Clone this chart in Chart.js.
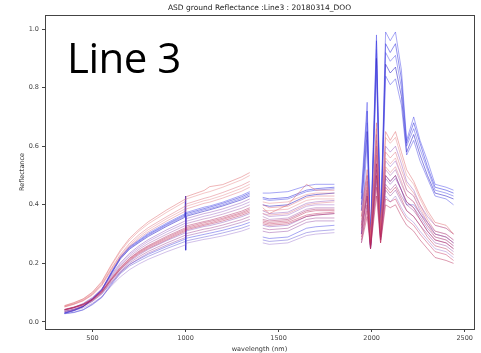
<!DOCTYPE html>
<html>
<head>
<meta charset="utf-8">
<script src="https://cdn.jsdelivr.net/npm/chart.js@4.4.1/dist/chart.umd.min.js"></script>
<style>
  html,body{margin:0;padding:0;background:#fff;}
  #wrap{position:relative;width:481px;height:353px;}
  #tag{position:absolute;left:67px;top:36px;font-family:"Open Sans",Lato,sans-serif;font-size:42px;color:#000;line-height:1;letter-spacing:-0.5px;}
</style>
</head>
<body>
<div id="wrap">
  <canvas id="chartRefl" width="481" height="353"></canvas>
  <div id="tag">Line 3</div>
</div>
<script>
// wavelengths (nm); null rows mark the water-band gaps
const wavelength = [350,400,450,500,550,600,650,700,750,800,900,995,1000,1001,1005,1100,1130,1200,1300,1345,
  1380,
  1415,1450,1550,1650,1700,1800,
  1870,
  1945,1976,1994,2026,2048,2075,2100,2128,2160,2188,2226,2260,2300,2341,2400,2440];

const xTicks = [500,1000,1500,2000,2500];
const yTicks = [0,0.2,0.4,0.6,0.8,1.0];

// red / pink spectra
const red8 = [0.041,0.049,0.058,0.075,0.101,0.143,0.180,0.210,0.233,0.251,0.281,0.308,0.308,0.315,0.315,0.330,0.334,0.345,0.364,0.375, null,
  0.335,0.33,0.335,0.36,0.365,0.37, null,
  0.27,0.36,0.25,0.43,0.27,0.40,0.39,0.40,0.36,0.33,0.31,0.28,0.25,0.22,0.21,0.20];
const red7 = [0.042,0.049,0.059,0.076,0.103,0.144,0.182,0.213,0.236,0.255,0.285,0.312,0.312,0.319,0.319,0.334,0.338,0.350,0.369,0.38, null,
  0.34,0.335,0.34,0.365,0.37,0.375, null,
  0.28,0.38,0.25,0.46,0.27,0.42,0.41,0.42,0.38,0.35,0.33,0.30,0.27,0.24,0.23,0.21];
const red6 = [0.042,0.050,0.060,0.077,0.104,0.146,0.185,0.216,0.239,0.258,0.289,0.316,0.316,0.323,0.323,0.339,0.343,0.354,0.373,0.385, null,
  0.345,0.34,0.345,0.375,0.38,0.38, null,
  0.29,0.40,0.26,0.50,0.28,0.46,0.44,0.46,0.42,0.38,0.36,0.33,0.29,0.26,0.25,0.23];
const red5 = [0.043,0.051,0.061,0.078,0.105,0.148,0.187,0.218,0.242,0.261,0.293,0.320,0.320,0.328,0.328,0.343,0.347,0.359,0.378,0.39, null,
  0.35,0.345,0.35,0.38,0.385,0.385, null,
  0.30,0.43,0.26,0.54,0.29,0.50,0.48,0.50,0.45,0.41,0.39,0.35,0.31,0.28,0.27,0.25];
const red9 = [0.051,0.060,0.072,0.092,0.124,0.175,0.221,0.258,0.285,0.308,0.345,0.377,0.377,0.386,0.386,0.405,0.409,0.423,0.446,0.46, null,
  0.37,0.365,0.37,0.40,0.405,0.41, null,
  0.31,0.45,0.27,0.57,0.29,0.53,0.51,0.53,0.48,0.43,0.41,0.37,0.33,0.29,0.28,0.26];
const red4 = [0.052,0.061,0.073,0.094,0.127,0.179,0.226,0.263,0.291,0.315,0.353,0.385,0.385,0.395,0.395,0.414,0.418,0.432,0.456,0.47, null,
  0.38,0.38,0.385,0.415,0.42,0.42, null,
  0.32,0.46,0.27,0.60,0.30,0.56,0.54,0.56,0.50,0.45,0.43,0.39,0.34,0.30,0.29,0.27];
const red3 = [0.053,0.062,0.075,0.096,0.130,0.182,0.230,0.269,0.298,0.322,0.360,0.394,0.394,0.403,0.403,0.422,0.427,0.442,0.466,0.48, null,
  0.40,0.39,0.395,0.425,0.43,0.43, null,
  0.33,0.48,0.28,0.62,0.30,0.58,0.56,0.58,0.52,0.47,0.44,0.40,0.35,0.31,0.30,0.28];
const red2 = [0.055,0.065,0.078,0.100,0.135,0.190,0.240,0.280,0.310,0.335,0.375,0.410,0.410,0.420,0.420,0.440,0.445,0.460,0.485,0.50, null,
  0.41,0.405,0.41,0.435,0.44,0.44, null,
  0.35,0.50,0.28,0.66,0.31,0.63,0.61,0.63,0.56,0.50,0.47,0.42,0.37,0.33,0.32,0.30];
const red1 = [0.056,0.066,0.079,0.102,0.138,0.194,0.245,0.286,0.316,0.342,0.383,0.418,0.418,0.428,0.428,0.449,0.462,0.469,0.495,0.51, null,
  0.39,0.37,0.40,0.47,0.45,0.45, null,
  0.36,0.52,0.29,0.68,0.31,0.65,0.62,0.65,0.58,0.52,0.48,0.43,0.38,0.34,0.33,0.30];

// purple spectra
const purple7 = [0.032,0.038,0.048,0.064,0.086,0.122,0.154,0.179,0.198,0.214,0.240,0.262,0.262,0.269,0.269,0.282,0.285,0.294,0.310,0.32, null,
  0.27,0.265,0.27,0.295,0.30,0.305, null,
  0.27,0.40,0.25,0.48,0.28,0.43,0.41,0.43,0.39,0.36,0.34,0.31,0.28,0.25,0.24,0.22];
const purple6 = [0.035,0.042,0.053,0.070,0.095,0.133,0.168,0.196,0.217,0.235,0.263,0.287,0.287,0.294,0.294,0.308,0.312,0.322,0.340,0.35, null,
  0.31,0.305,0.31,0.34,0.345,0.345, null,
  0.32,0.42,0.25,0.50,0.28,0.45,0.43,0.45,0.41,0.38,0.36,0.33,0.30,0.27,0.26,0.24];
const purple5 = [0.036,0.043,0.054,0.072,0.097,0.137,0.173,0.202,0.223,0.241,0.270,0.295,0.295,0.302,0.302,0.317,0.320,0.331,0.349,0.36, null,
  0.32,0.315,0.32,0.35,0.355,0.355, null,
  0.33,0.43,0.26,0.52,0.29,0.47,0.45,0.47,0.43,0.40,0.38,0.35,0.31,0.28,0.27,0.25];
const purple4 = [0.037,0.044,0.056,0.074,0.100,0.141,0.178,0.207,0.229,0.248,0.278,0.303,0.303,0.311,0.311,0.326,0.329,0.340,0.359,0.37, null,
  0.33,0.325,0.33,0.36,0.365,0.37, null,
  0.34,0.44,0.26,0.54,0.29,0.49,0.47,0.49,0.45,0.41,0.39,0.36,0.32,0.29,0.28,0.26];
const purple3 = [0.040,0.048,0.060,0.080,0.108,0.152,0.192,0.224,0.248,0.268,0.300,0.328,0.328,0.336,0.336,0.352,0.356,0.368,0.388,0.40, null,
  0.36,0.35,0.355,0.385,0.39,0.39, null,
  0.36,0.46,0.27,0.57,0.30,0.52,0.50,0.52,0.47,0.43,0.41,0.37,0.33,0.30,0.29,0.27];
const purple2 = [0.041,0.049,0.062,0.082,0.111,0.156,0.197,0.230,0.254,0.275,0.308,0.336,0.336,0.344,0.344,0.361,0.365,0.377,0.398,0.41, null,
  0.37,0.36,0.365,0.395,0.40,0.40, null,
  0.38,0.48,0.27,0.60,0.30,0.55,0.53,0.55,0.50,0.45,0.43,0.38,0.34,0.31,0.30,0.28];
const purple1 = [0.042,0.050,0.063,0.084,0.113,0.160,0.202,0.235,0.260,0.281,0.315,0.344,0.344,0.353,0.353,0.370,0.374,0.386,0.407,0.42, null,
  0.38,0.37,0.375,0.405,0.41,0.415, null,
  0.40,0.50,0.28,0.64,0.31,0.60,0.58,0.60,0.54,0.48,0.45,0.40,0.36,0.33,0.32,0.30];

// blue spectra
const blue6 = [0.028,0.032,0.041,0.059,0.083,0.125,0.165,0.191,0.208,0.224,0.251,0.274,0.274,0.277,0.277,0.290,0.294,0.304,0.320,0.33, null,
  0.28,0.275,0.28,0.305,0.31,0.315, null,
  0.30,0.45,0.25,0.60,0.30,0.50,0.48,0.50,0.45,0.40,0.40,0.37,0.34,0.30,0.29,0.27];
const blue5 = [0.029,0.033,0.042,0.061,0.085,0.129,0.170,0.197,0.214,0.231,0.258,0.282,0.282,0.286,0.286,0.299,0.303,0.313,0.330,0.34, null,
  0.29,0.285,0.29,0.32,0.325,0.33, null,
  0.30,0.62,0.25,0.86,0.29,0.84,0.81,0.83,0.74,0.57,0.62,0.55,0.49,0.43,0.42,0.40];
const blue4 = [0.030,0.039,0.052,0.077,0.108,0.163,0.215,0.249,0.271,0.292,0.327,0.357,0.43,0.245,0.361,0.378,0.383,0.396,0.417,0.43, null,
  0.40,0.395,0.40,0.43,0.435,0.44, null,
  0.38,0.65,0.26,0.90,0.30,0.88,0.85,0.87,0.77,0.58,0.64,0.57,0.50,0.44,0.43,0.42];
const blue3 = [0.030,0.039,0.052,0.078,0.109,0.165,0.218,0.252,0.274,0.296,0.331,0.361,0.361,0.365,0.365,0.383,0.387,0.400,0.422,0.435, null,
  0.42,0.415,0.42,0.445,0.45,0.455, null,
  0.40,0.68,0.26,0.93,0.30,0.92,0.89,0.91,0.80,0.60,0.66,0.59,0.52,0.45,0.44,0.43];
const blue2 = [0.031,0.040,0.053,0.079,0.110,0.167,0.220,0.255,0.277,0.299,0.334,0.365,0.365,0.370,0.370,0.387,0.392,0.405,0.427,0.44, null,
  0.425,0.42,0.425,0.45,0.455,0.46, null,
  0.42,0.72,0.27,0.96,0.31,0.95,0.92,0.95,0.83,0.61,0.68,0.61,0.53,0.46,0.45,0.44];
const blue1 = [0.031,0.040,0.053,0.080,0.111,0.169,0.222,0.258,0.280,0.303,0.338,0.369,0.369,0.374,0.374,0.392,0.396,0.409,0.432,0.445, null,
  0.44,0.44,0.445,0.465,0.47,0.47, null,
  0.44,0.75,0.28,0.98,0.32,0.99,0.96,0.99,0.86,0.62,0.70,0.62,0.55,0.47,0.46,0.45];

// draw order: reds underneath, blues on top
const spectra = [red8,red7,red6,red5,red9,red4,red3,red2,red1,
  purple7,purple6,purple5,purple4,purple3,purple2,purple1,
  blue6,blue5,blue4,blue3,blue2,blue1];
const lineColors = [
  'rgba(180,30,80,0.50)','rgba(195,45,90,0.50)','rgba(185,40,85,0.50)','rgba(175,35,95,0.50)',
  'rgba(220,100,115,0.45)','rgba(225,110,120,0.42)','rgba(215,90,105,0.45)','rgba(225,105,110,0.42)','rgba(220,90,95,0.50)',
  'rgba(140,100,200,0.45)','rgba(130,50,150,0.45)','rgba(145,40,130,0.45)','rgba(120,55,170,0.45)',
  'rgba(150,70,160,0.45)','rgba(140,80,190,0.45)','rgba(130,60,175,0.45)',
  'rgba(90,80,210,0.50)','rgba(75,75,230,0.55)','rgba(55,45,200,0.65)','rgba(75,75,230,0.55)','rgba(65,65,225,0.65)','rgba(75,75,235,0.55)'
];

const framePlugin = {
  id:'frame',
  afterDraw(chart){
    const {ctx, chartArea:a} = chart;
    ctx.save();
    ctx.strokeStyle = '#444';
    ctx.lineWidth = 1;
    ctx.strokeRect(Math.round(a.left)+0.5, Math.round(a.top)+0.5, Math.round(a.right-a.left), Math.round(a.bottom-a.top));
    ctx.restore();
  }
};

const tickFont = {family:'"DejaVu Sans", sans-serif', size:6.5};

new Chart(document.getElementById('chartRefl'), {
  type:'line',
  data:{
    datasets: spectra.map((s,i)=>({
      data: wavelength.map((w,j)=>({x:w, y:s[j]})),
      borderColor: lineColors[i],
      borderWidth: 0.9,
      pointRadius: 0,
      tension: 0,
      spanGaps: false
    }))
  },
  options:{
    responsive:false,
    animation:false,
    layout:{padding:{left:18,right:7,top:0,bottom:0}},
    plugins:{
      legend:{display:false},
      tooltip:{enabled:false},
      title:{display:true, fullSize:false, text:'ASD ground Reflectance :Line3 : 20180314_DOO',
        color:'#222', font:{family:'"DejaVu Sans", sans-serif', size:7.5, weight:'normal'}, padding:{top:4,bottom:2}}
    },
    scales:{
      x:{
        type:'linear', min:245, max:2550,
        afterBuildTicks:s=>{s.ticks = xTicks.map(v=>({value:v}));},
        afterFit:s=>{s.height = 24;},
        grid:{drawOnChartArea:false, drawTicks:true, tickLength:3, color:'#444'},
        border:{display:true, color:'#444'},
        ticks:{font:tickFont, color:'#444', padding:2, maxRotation:0, callback:v=>String(v)},
        title:{display:true, text:'wavelength (nm)', font:tickFont, color:'#333', padding:{top:1,bottom:0}}
      },
      y:{
        min:-0.024, max:1.048,
        afterBuildTicks:s=>{s.ticks = yTicks.map(v=>({value:v}));},
        afterFit:s=>{s.width = 27;},
        grid:{drawOnChartArea:false, drawTicks:true, tickLength:3, color:'#444'},
        border:{display:true, color:'#444'},
        ticks:{font:tickFont, color:'#444', padding:3, callback:v=>Number(v).toFixed(1)},
        title:{display:true, text:'Reflectance', font:tickFont, color:'#333', padding:{top:0,bottom:4}}
      }
    }
  },
  plugins:[framePlugin]
});
</script>
</body>
</html>
